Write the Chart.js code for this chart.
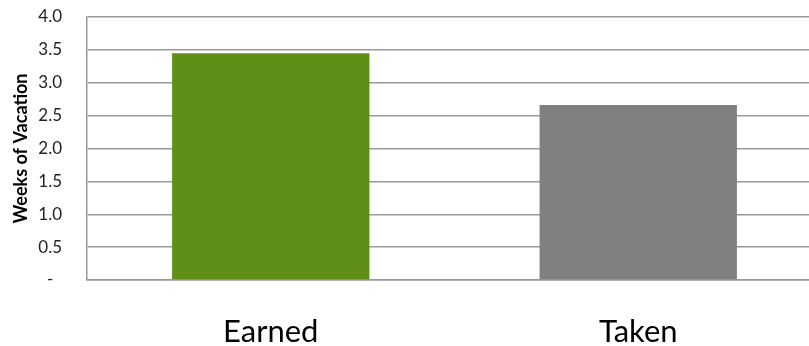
<!DOCTYPE html>
<html>
<head>
<meta charset="utf-8">
<script src="https://cdn.jsdelivr.net/npm/chart.js@4/dist/chart.umd.min.js"></script>
<style>
html,body{margin:0;padding:0;background:#fff;overflow:hidden;width:809px;height:346px;}
#wrap{width:822px;height:346px;position:relative;}
</style>
</head>
<body>
<div id="wrap"><canvas id="c"></canvas></div>
<script>
const categories = ['Earned', 'Taken'];
const weeks = [3.45, 2.66];
const barColors = ['#5f8f16', '#808080'];
const yTitle = 'Weeks of Vacation';

new Chart(document.getElementById('c'), {
  type: 'bar',
  data: {
    labels: categories,
    datasets: [{
      data: weeks,
      backgroundColor: barColors,
      borderWidth: 0,
      barPercentage: 1,
      categoryPercentage: 0.537
    }]
  },
  options: {
    responsive: true,
    maintainAspectRatio: false,
    animation: false,
    layout: { padding: { left: 6, right: 0, top: 17, bottom: 0 } },
    plugins: { legend: { display: false }, tooltip: { enabled: false } },
    scales: {
      x: {
        grid: { display: false, drawTicks: false },
        border: { display: true, color: '#999', width: 1.5 },
        ticks: { font: { family: 'Lato', size: 31 }, color: '#000', padding: 33 },
        afterFit: s => { s.height = 66; s.paddingLeft = 0; s.paddingRight = 0; }
      },
      y: {
        min: 0, max: 4,
        grid: { color: '#999', lineWidth: 1.5, drawTicks: false },
        border: { display: true, color: '#999', width: 1.5 },
        ticks: {
          stepSize: 0.5,
          padding: 25,
          color: '#222',
          font: { family: 'Lato', size: 17 },
          callback: v => v === 0 ? '-  ' : v.toFixed(1)
        },
        title: {
          display: true,
          text: yTitle,
          color: '#000',
          font: { family: 'Lato', size: 18, weight: 'bold' },
          padding: { top: 4, bottom: 0 }
        },
        afterFit: s => { s.width = 81; s.paddingTop = 0; s.paddingBottom = 0; }
      }
    }
  }
});
</script>
</body>
</html>
